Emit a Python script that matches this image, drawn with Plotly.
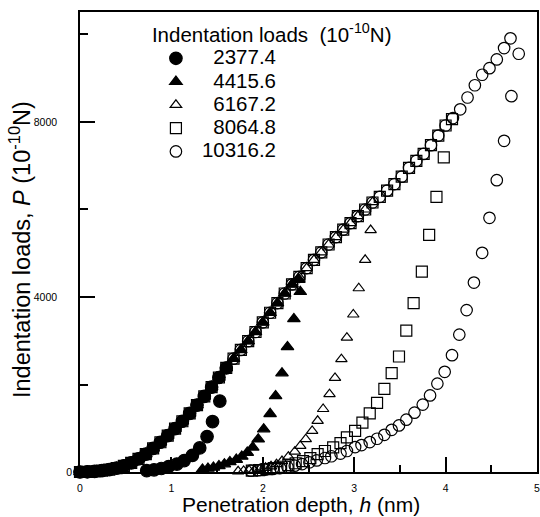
import plotly.graph_objects as go

FONT = "Arial, 'Liberation Sans', Helvetica, sans-serif"

# ---- data ----
# shared loading branch (penetration depth h [nm], load P [1e-10 N])
load_h = [0.00, 0.08, 0.16, 0.24, 0.32, 0.40, 0.48, 0.56, 0.64, 0.72, 0.80, 0.88, 0.96, 1.04, 1.12,
          1.20, 1.28, 1.36, 1.44, 1.52, 1.60, 1.68, 1.76, 1.84, 1.92, 2.00, 2.08, 2.16, 2.24, 2.32,
          2.40, 2.48, 2.56, 2.64, 2.72, 2.80, 2.88, 2.96, 3.04, 3.12, 3.20, 3.28, 3.36, 3.44, 3.52,
          3.60, 3.68, 3.76, 3.84, 3.92, 4.00, 4.08, 4.16, 4.24, 4.32, 4.40, 4.48, 4.56, 4.64]
load_P = [0, 5, 15, 30, 55, 90, 140, 210, 300, 410, 540, 680, 830, 990, 1160,
          1340, 1530, 1730, 1940, 2160, 2380, 2590, 2790, 2990, 3200, 3420, 3640, 3860, 4080, 4290,
          4460, 4660, 4850, 5020, 5200, 5370, 5540, 5690, 5850, 6000, 6160, 6290, 6430, 6580, 6750,
          6950, 7110, 7270, 7470, 7690, 7920, 8090, 8290, 8560, 8840, 9080, 9230, 9430, 9690]

series_labels = ["2377.4", "4415.6", "6167.2", "8064.8", "10316.2"]
n_loading = [20, 30, 40, 51, 59]          # loading points used by each test
peak_h = [1.60, 2.39, 3.20, 4.07, 4.71]
peak_P = [2377, 4415, 6167, 8065, 9913]

unload1_h = [1.53, 1.45, 1.39, 1.31, 1.23, 1.14, 1.06, 0.97, 0.89, 0.81, 0.73]
unload1_P = [1620, 1150, 810, 550, 380, 260, 180, 125, 80, 50, 30]

unload2_h = [2.41, 2.34, 2.27, 2.21, 2.14, 2.08, 2.01, 1.95, 1.89, 1.83, 1.77, 1.71, 1.64, 1.58,
             1.52, 1.46, 1.40, 1.34]
unload2_P = [4120, 3500, 2860, 2260, 1740, 1330, 980, 750, 565, 445, 355, 285, 230, 180,
             140, 105, 80, 60]

unload3_h = [3.18, 3.12, 3.05, 2.99, 2.92, 2.86, 2.79, 2.73, 2.66, 2.60, 2.54, 2.47, 2.41, 2.35,
             2.28, 2.21, 2.15, 2.09, 2.03, 1.97, 1.91, 1.85, 1.79, 1.73]
unload3_P = [5530, 4850, 4200, 3600, 3070, 2580, 2150, 1780, 1440, 1170, 940, 750, 595, 465,
             350, 250, 180, 130, 95, 70, 50, 35, 25, 15]

unload4_h = [3.98, 3.90, 3.82, 3.74, 3.65, 3.57, 3.49, 3.41, 3.33, 3.25, 3.17, 3.09, 3.01, 2.92,
             2.85, 2.77, 2.68, 2.60, 2.52, 2.44, 2.36, 2.28, 2.20, 2.12, 2.04, 1.96, 1.88]
unload4_P = [7190, 6290, 5420, 4580, 3860, 3230, 2640, 2260, 1900, 1580, 1340, 1130, 940, 790,
             660, 565, 480, 410, 315, 250, 200, 155, 120, 90, 65, 45, 30]

unload5_h = [4.80, 4.72, 4.64, 4.56, 4.48, 4.40, 4.31, 4.23, 4.15, 4.07, 3.99, 3.91, 3.83, 3.75,
             3.66, 3.57, 3.49, 3.41, 3.33, 3.25, 3.17, 3.08, 3.01, 2.92, 2.85, 2.75, 2.68, 2.59,
             2.51, 2.43, 2.35, 2.27, 2.19, 2.11, 2.03, 1.95, 1.87]
unload5_P = [9560, 8590, 7570, 6670, 5810, 5010, 4330, 3700, 3140, 2670, 2290, 2020, 1750, 1540,
             1355, 1195, 1065, 965, 850, 760, 685, 615, 570, 480, 420, 360, 320, 265,
             220, 180, 145, 115, 90, 70, 55, 40, 30]

unload_h = [unload1_h, unload2_h, unload3_h, unload4_h, unload5_h]
unload_P = [unload1_P, unload2_P, unload3_P, unload4_P, unload5_P]

x_ticks = [0, 1, 2, 3, 4, 5]
x_minor = [0.5, 1.5, 2.5, 3.5, 4.5]
y_ticks = [0, 4000, 8000]
y_ticktext = ["", "4000", "8000"]
y_zero_tick = [0]
y_zero_text = ["0"]
y_minor = [2000, 6000, 10000]
y_range = [0, 10514]

x_title = "Penetration depth, <i>h</i> (nm)"
y_title = "Indentation loads, <i>P</i> (10<sup>-10</sup>N)"
legend_title = "Indentation loads  (10<sup>-10</sup>N)"

# ---- styles ----
symbols = ["circle", "triangle-up", "triangle-up-open", "square-open", "circle-open"]
sizes = [12.5, 11, 10, 11, 11.5]

fig = go.Figure()
for i in range(5):
    n = n_loading[i]
    hx = load_h[:n] + [peak_h[i]] + unload_h[i]
    py = load_P[:n] + [peak_P[i]] + unload_P[i]
    fig.add_trace(go.Scatter(
        x=hx, y=py, mode="markers",
        name='<span style="font-size:20.5px">' + ("\u2007" if len(series_labels[i]) < 7 else "")
             + series_labels[i] + "</span>",
        marker=dict(symbol=symbols[i], size=sizes[i], color="black",
                    line=dict(color="black", width=1.2)),
        cliponaxis=False,
    ))

# invisible helper trace so the second y axis (zero label) is drawn
fig.add_trace(go.Scatter(x=[None], y=[None], yaxis="y2", showlegend=False, hoverinfo="skip"))

fig.update_layout(
    width=540, height=517,
    margin=dict(l=80, r=3, t=12, b=45),
    paper_bgcolor="white", plot_bgcolor="white",
    font=dict(family=FONT, color="black"),
    showlegend=True,
    legend=dict(
        x=0.153, y=0.9935, xanchor="left", yanchor="top",
        bgcolor="rgba(0,0,0,0)", borderwidth=0,
        font=dict(size=15.6, family=FONT, color="black"),
        title=dict(text=legend_title, font=dict(size=20.5, family=FONT, color="black")),
        itemsizing="trace", itemwidth=42,
    ),
    xaxis=dict(
        range=[0, 5], tickvals=x_ticks, ticks="inside", ticklen=15, tickwidth=1.5,
        tickcolor="black", showline=True, linecolor="black", linewidth=1.5, mirror=True,
        showgrid=False, zeroline=False, tickfont=dict(size=10.5, color="black"),
        ticklabelstandoff=6, automargin=False, ticklabeloverflow="allow",
        minor=dict(tickvals=x_minor, ticks="inside", ticklen=7, tickwidth=1.5, tickcolor="black"),
    ),
    yaxis=dict(
        range=y_range, tickvals=y_ticks, ticktext=y_ticktext, ticks="inside", ticklen=15,
        tickwidth=1.5, tickcolor="black", showline=True, linecolor="black", linewidth=1.5,
        mirror=True, showgrid=False, zeroline=False, tickfont=dict(size=10.5, color="black"),
        ticklabelstandoff=19, automargin=False,
        minor=dict(tickvals=y_minor, ticks="inside", ticklen=8, tickwidth=1.5, tickcolor="black"),
    ),
    yaxis2=dict(
        range=y_range, overlaying="y", side="left", tickvals=y_zero_tick, ticktext=y_zero_text,
        ticks="", showline=False, showgrid=False, zeroline=False,
        tickfont=dict(size=10.5, color="black"), ticklabelstandoff=7, automargin=False,
    ),
    annotations=[
        dict(text=x_title, xref="paper", yref="paper", x=0.4836, y=-0.0705,
             xanchor="center", yanchor="middle", showarrow=False,
             font=dict(size=21, color="black", family=FONT)),
        dict(text=y_title, xref="paper", yref="paper", x=-0.1313, y=0.4848, textangle=-90,
             xanchor="center", yanchor="middle", showarrow=False,
             font=dict(size=23.5, color="black", family=FONT)),
    ],
)

fig.write_html("out.html", config={"displayModeBar": False},
               post_script="document.body.style.margin='0';")
